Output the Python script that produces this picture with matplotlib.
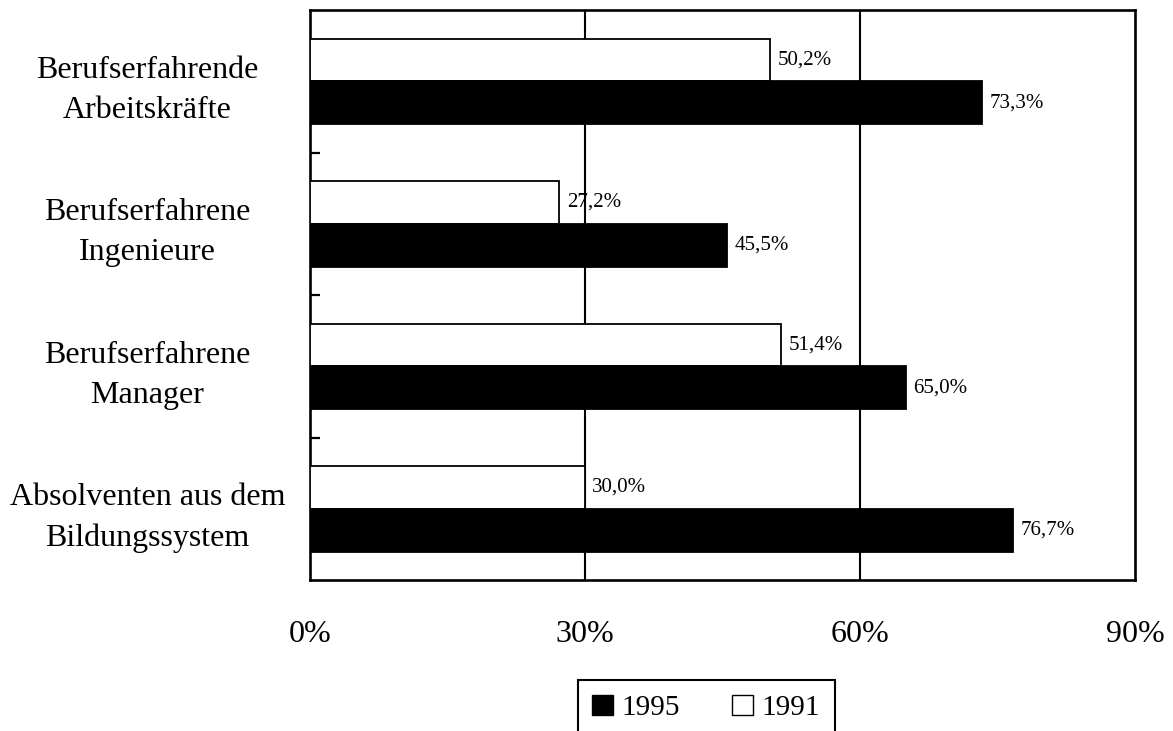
import matplotlib
matplotlib.use("Agg")
import matplotlib.pyplot as plt
from matplotlib.patches import Patch
import numpy as np

plt.rcParams['font.family'] = ['Liberation Serif', 'DejaVu Serif']

categories = ["Berufserfahrende\nArbeitskräfte",
              "Berufserfahrene\nIngenieure",
              "Berufserfahrene\nManager",
              "Absolventen aus dem\nBildungssystem"]
vals_1991 = [50.2, 27.2, 51.4, 30.0]
vals_1995 = [73.3, 45.5, 65.0, 76.7]
x_ticks = [0, 30, 60, 90]
x_labels = ["0%", "30%", "60%", "90%"]

fig = plt.figure(figsize=(11.73, 7.31), dpi=100)
ax = fig.add_axes([310/1173, 1 - 580/731, 825/1173, 570/731])

y = np.arange(len(categories))
h = 0.3
b91 = ax.barh(y - h/2, vals_1991, height=h, color='white', edgecolor='black', linewidth=1.3, zorder=3)
b95 = ax.barh(y + h/2, vals_1995, height=h, color='black', edgecolor='black', linewidth=1.3, zorder=3)

# value labels next to the bars
for bars, vals in [(b91, vals_1991), (b95, vals_1995)]:
    for bar, v in zip(bars, vals):
        ax.text(v + 0.8, bar.get_y() + bar.get_height()/2,
                f"{v:.1f}%".replace('.', ','), va='center', ha='left', fontsize=15)

ax.set_xlim(0, 90)
ax.set_ylim(3.5, -0.5)
ax.set_xticks(x_ticks)
ax.set_xticklabels(x_labels, fontsize=23)
ax.tick_params(axis='x', length=0, pad=29)
ax.set_yticks(y)
ax.set_yticklabels(categories, fontsize=23, ha='center', linespacing=1.5)
ax.tick_params(axis='y', which='major', length=0, pad=117)
ax.set_yticks([0.5, 1.5, 2.5], minor=True)
ax.tick_params(axis='y', which='minor', direction='in', length=7, width=1.6)

for x in [30, 60]:
    ax.axvline(x, color='black', linewidth=1.5, zorder=1)
for s in ax.spines.values():
    s.set_linewidth(1.9)

handles = [Patch(facecolor='black', edgecolor='black', label='1995'),
           Patch(facecolor='white', edgecolor='black', label='1991')]
leg = fig.legend(handles=handles, loc='upper center', bbox_to_anchor=(706/1173, 1 - 680/731),
                 ncol=2, fontsize=21, frameon=True, fancybox=False, framealpha=1,
                 edgecolor='black', handlelength=0.7, handleheight=0.7,
                 handletextpad=0.3, columnspacing=1.8, borderpad=0.5, borderaxespad=0)
leg.get_frame().set_linewidth(1.5)

fig.savefig("out.png", dpi=100)
